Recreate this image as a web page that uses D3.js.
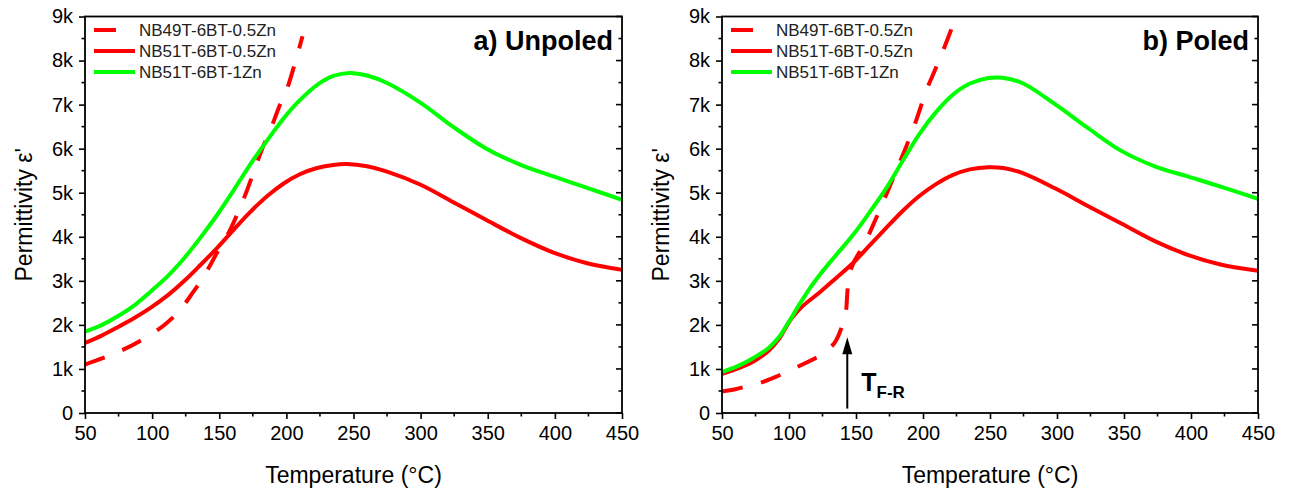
<!DOCTYPE html>
<html>
<head>
<meta charset="utf-8">
<script src="https://cdn.jsdelivr.net/npm/d3@7"></script>
<style>
  html, body { margin: 0; padding: 0; background: #fff; }
  svg { display: block; font-family: "Liberation Sans", Arial, sans-serif; }
</style>
</head>
<body>
<svg id="chart" width="1290" height="495"></svg>
<script>
// Permittivity (in thousands) versus temperature (°C)
const seriesNames = ["NB49T-6BT-0.5Zn", "NB51T-6BT-0.5Zn", "NB51T-6BT-1Zn"];
const seriesColors = ["#ff0000", "#ff0000", "#00ff00"];
const seriesDashed = [true, false, false];

const xTicks = [50, 100, 150, 200, 250, 300, 350, 400, 450];
const yTicks = [0, 1, 2, 3, 4, 5, 6, 7, 8, 9];
const yTickLabels = ["0", "1k", "2k", "3k", "4k", "5k", "6k", "7k", "8k", "9k"];

// a) Unpoled
const unpoledNB49T05Zn = [
  [50, 1.10], [60, 1.21], [70, 1.33], [80, 1.46], [90, 1.62], [100, 1.80],
  [110, 2.02], [120, 2.31], [130, 2.72], [140, 3.18], [148, 3.62], [158, 4.15],
  [164, 4.55], [170, 5.00], [176, 5.50], [182, 6.00], [188, 6.42], [195, 6.98],
  [201, 7.40], [206, 7.90], [212, 8.55]
];
const unpoledNB51T05Zn = [
  [50, 1.59], [62, 1.75], [74, 1.94], [87, 2.16], [99, 2.39], [112, 2.68],
  [124, 3.00], [136, 3.36], [148.5, 3.75], [161, 4.17], [173, 4.56], [186, 4.93],
  [198, 5.21], [210, 5.42], [223, 5.56], [235, 5.63], [245, 5.65], [260, 5.60],
  [275, 5.48], [300, 5.18], [324, 4.79], [349, 4.38], [374, 3.98], [399, 3.64],
  [424, 3.40], [450, 3.25]
];
const unpoledNB51T1Zn = [
  [50, 1.85], [62, 1.99], [74, 2.19], [87, 2.45], [99, 2.76], [112, 3.12],
  [124, 3.52], [136, 3.98], [148.5, 4.50], [161, 5.07], [173, 5.64], [186, 6.20],
  [198, 6.69], [210, 7.10], [223, 7.45], [235, 7.65], [247, 7.72], [260, 7.66],
  [275, 7.49], [300, 7.04], [324, 6.50], [349, 6.00], [374, 5.64], [399, 5.37],
  [424, 5.11], [450, 4.84]
];

// b) Poled
const poledNB49T05Zn = [
  [50, 0.49], [60, 0.54], [70, 0.62], [80, 0.70], [90, 0.82], [100, 0.96],
  [110, 1.10], [120, 1.25], [125, 1.33], [130, 1.46], [135, 1.64], [138, 1.84],
  [141, 2.12], [142.8, 2.38], [143.5, 2.72], [144.2, 3.00], [145.5, 3.18],
  [148, 3.40], [152, 3.62], [158, 3.95], [165, 4.42], [172.5, 4.95], [180, 5.50],
  [187, 6.01], [195, 6.65], [202, 7.28], [210, 7.86], [220, 8.62], [224.5, 9.0]
];
const poledNB51T05Zn = [
  [50, 0.89], [60, 0.99], [73.5, 1.17], [85, 1.42], [93, 1.70], [98, 1.96],
  [102, 2.15], [110, 2.42], [123, 2.74], [135, 3.06], [148, 3.41], [160, 3.80],
  [172.5, 4.20], [185, 4.59], [197, 4.92], [210, 5.20], [222, 5.40], [235, 5.53],
  [249, 5.58], [260, 5.56], [274, 5.45], [298.5, 5.10], [323, 4.70], [348, 4.30],
  [373, 3.90], [397.5, 3.59], [422, 3.37], [450, 3.23]
];
const poledNB51T1Zn = [
  [50, 0.93], [60, 1.04], [73.5, 1.25], [85, 1.48], [93, 1.74], [98, 1.98],
  [102, 2.17], [106, 2.38], [111, 2.62], [116, 2.85], [123, 3.14], [135, 3.58],
  [148, 4.05], [160, 4.55], [172.5, 5.10], [185, 5.73], [197, 6.32], [210, 6.84],
  [222, 7.22], [235, 7.48], [248, 7.60], [259, 7.61], [274, 7.49], [298.5, 7.01],
  [323, 6.47], [348, 5.95], [373, 5.60], [397.5, 5.37], [422, 5.14], [450, 4.86]
];

// Ferroelectric-to-relaxor transition marker on the poled panel
const tfrTemperature = 143.5;
const tfrArrowFrom = 0.1;
const tfrArrowTo = 1.72;

const panels = [
  { title: "a) Unpoled", left: 85, right: 622,
    series: [unpoledNB49T05Zn, unpoledNB51T05Zn, unpoledNB51T1Zn], marker: false },
  { title: "b) Poled", left: 722, right: 1258,
    series: [poledNB49T05Zn, poledNB51T05Zn, poledNB51T1Zn], marker: true }
];

const plotTop = 16.5, plotBottom = 413;
const svg = d3.select("#chart");

panels.forEach((p, pi) => {
  const x = d3.scaleLinear().domain([50, 450]).range([p.left, p.right]);
  const y = d3.scaleLinear().domain([0, 9]).range([plotBottom, plotTop]);
  const g = svg.append("g");

  const clipId = "clip" + pi;
  svg.append("clipPath").attr("id", clipId)
    .append("rect").attr("x", p.left).attr("y", plotTop)
    .attr("width", p.right - p.left).attr("height", plotBottom - plotTop);

  // curves: smooth splines for the solid traces, monotone for the steep dashed one
  p.series.forEach((s, i) => {
    const line = d3.line().x(d => x(d[0])).y(d => y(d[1]))
      .curve(seriesDashed[i] ? d3.curveMonotoneX : d3.curveCatmullRom.alpha(0.5));
    g.append("path").datum(s)
      .attr("clip-path", `url(#${clipId})`)
      .attr("fill", "none")
      .attr("stroke", seriesColors[i])
      .attr("stroke-width", 4)
      .attr("stroke-dasharray", seriesDashed[i] ? "21,19" : null)
      .attr("d", line);
  });

  // bottom axis
  const xMinor = d3.range(75, 450, 50);
  const xAxis = d3.axisBottom(x).tickValues(xTicks).tickSize(6).tickPadding(7).tickFormat(d3.format("d"));
  const gx = g.append("g").attr("transform", `translate(0,${plotBottom})`).call(xAxis);
  gx.selectAll(".tick line").attr("stroke-width", 1.6);
  gx.append("g").selectAll("line").data(xMinor).join("line")
    .attr("x1", d => x(d)).attr("x2", d => x(d)).attr("y1", 0).attr("y2", 3.5)
    .attr("stroke", "#000").attr("stroke-width", 1.6);

  // left axis
  const yMinor = d3.range(0.5, 9, 1);
  const yAxis = d3.axisLeft(y).tickValues(yTicks).tickSize(6).tickPadding(6)
    .tickFormat((d, i) => yTickLabels[i]);
  const gy = g.append("g").attr("transform", `translate(${p.left},0)`).call(yAxis);
  gy.selectAll(".tick line").attr("stroke-width", 1.6);
  gy.append("g").selectAll("line").data(yMinor).join("line")
    .attr("y1", d => y(d)).attr("y2", d => y(d)).attr("x1", 0).attr("x2", -3.5)
    .attr("stroke", "#000").attr("stroke-width", 1.6);

  [gx, gy].forEach(a => {
    a.select(".domain").remove();
    a.selectAll(".tick text").attr("font-size", 20).attr("fill", "#000")
      .attr("font-family", "'Liberation Sans', Arial, sans-serif");
  });

  // mirrored ticks on the right edge, pointing inward
  const gr = g.append("g");
  gr.selectAll("line.maj").data(yTicks).join("line").attr("class", "maj")
    .attr("x1", p.right).attr("x2", p.right - 6).attr("y1", d => y(d)).attr("y2", d => y(d))
    .attr("stroke", "#000").attr("stroke-width", 1.6);
  gr.selectAll("line.min").data(yMinor).join("line").attr("class", "min")
    .attr("x1", p.right).attr("x2", p.right - 3.5).attr("y1", d => y(d)).attr("y2", d => y(d))
    .attr("stroke", "#000").attr("stroke-width", 1.6);

  // frame
  g.append("rect").attr("x", p.left).attr("y", plotTop)
    .attr("width", p.right - p.left).attr("height", plotBottom - plotTop)
    .attr("fill", "none").attr("stroke", "#000").attr("stroke-width", 1.8);

  // axis titles
  g.append("text").attr("x", (p.left + p.right) / 2).attr("y", 483)
    .attr("text-anchor", "middle").attr("font-size", 23).text("Temperature (°C)");
  g.append("text")
    .attr("transform", `translate(${p.left - 53},${(plotTop + plotBottom) / 2}) rotate(-90)`)
    .attr("text-anchor", "middle").attr("font-size", 23).text("Permittivity ε'");

  // panel title
  g.append("text").attr("x", p.right - 9).attr("y", 50)
    .attr("text-anchor", "end").attr("font-size", 27).attr("font-weight", "bold")
    .text(p.title);

  // legend
  const lg = g.append("g").attr("transform", `translate(${p.left + 9},0)`);
  seriesNames.forEach((name, i) => {
    const cy = 30 + i * 21;
    lg.append("line").attr("x1", 0).attr("x2", seriesDashed[i] ? 22 : 41)
      .attr("y1", cy).attr("y2", cy)
      .attr("stroke", seriesColors[i]).attr("stroke-width", 4);
    lg.append("text").attr("x", 45).attr("y", cy + 6)
      .attr("font-size", 17).attr("fill", "#222").text(name);
  });

  // transition arrow
  if (p.marker) {
    const ax = x(tfrTemperature);
    const y0 = y(tfrArrowFrom), y1 = y(tfrArrowTo);
    g.append("line").attr("x1", ax).attr("x2", ax).attr("y1", y0).attr("y2", y1 + 14)
      .attr("stroke", "#000").attr("stroke-width", 2);
    g.append("path")
      .attr("d", `M${ax},${y1} L${ax - 5},${y1 + 17} L${ax + 5},${y1 + 17} Z`)
      .attr("fill", "#000");
    const t = g.append("text").attr("x", ax + 14).attr("y", 391)
      .attr("font-size", 25).attr("font-weight", "bold").attr("fill", "#000");
    t.append("tspan").text("T");
    t.append("tspan").attr("font-size", 17).attr("dy", 7).text("F-R");
  }
});
</script>
</body>
</html>
